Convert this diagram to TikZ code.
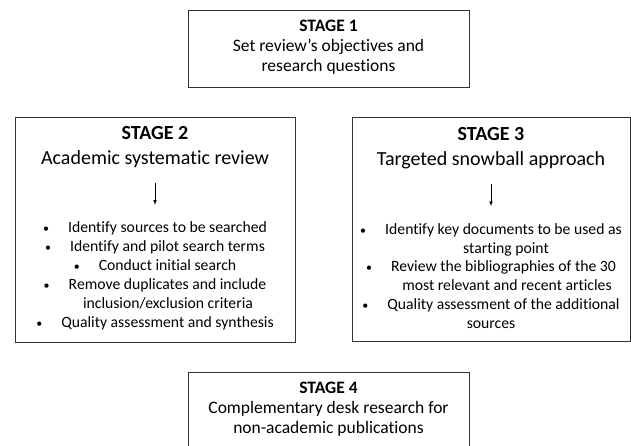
\documentclass[tikz,border=0pt]{standalone}
\usepackage{fontspec}
\setmainfont{Carlito}[Ligatures={TeX,NoCommon}]
\usetikzlibrary{arrows}
\newcommand{\bpt}{\makebox[25pt][l]{\fontsize{12}{12}\selectfont\textbullet}}

\begin{document}
\begin{tikzpicture}[x=1pt,y=-1pt]
    \tikzset{stage/.style = {shape=rectangle, draw=black!80, line width=0.8pt, inner sep=0pt}}
    \tikzset{txt/.style = {align=center, inner sep=0pt}}
    \tikzset{flow/.style = {draw=black, line width=0.6pt, ->, >=latex, shorten <=15pt, shorten >=17pt}}
    \clip (0,0) rectangle (631,445);

    % boxes
    \node[stage, minimum width=281pt, minimum height=77pt] (a) at (328.5,48.5) {};
    \node[stage, minimum width=280pt, minimum height=225pt] (b) at (155,229.5) {};
    \node[stage, minimum width=278pt, minimum height=224pt] (c) at (491,229) {};
    \node[stage, minimum width=281pt, minimum height=77pt] (d) at (328.5,410.5) {};

    % texts
    \node[txt, font=\fontsize{17.5}{20}\selectfont] (a1) at (328.5,47) {\textbf{STAGE 1}\\Set review's objectives and\\research questions};
    \node[txt, font=\fontsize{20}{24.5}\selectfont] (b1) at (155,147) {\textbf{STAGE 2}\\Academic systematic review};
    \node[txt, font=\fontsize{20}{24.5}\selectfont] (c1) at (491,148) {\textbf{STAGE 3}\\Targeted snowball approach};
    \node[txt, font=\fontsize{15.7}{18.9}\selectfont] (b2) at (155,276) {\bpt Identify sources to be searched\\\bpt Identify and pilot search terms\\\bpt Conduct initial search\\\bpt Remove duplicates and include\\\hspace*{26pt}inclusion/exclusion criteria\\\bpt Quality assessment and synthesis};
    \node[txt, font=\fontsize{15.7}{18.9}\selectfont] (c2) at (491,276) {\bpt Identify key documents to be used as\\\hspace*{30pt}starting point\\\bpt Review the bibliographies of the 30\\\hspace*{32pt}most relevant and recent articles\\\bpt Quality assessment of the additional\\sources};
    \node[txt, font=\fontsize{17.5}{20}\selectfont] (d1) at (328.5,409) {\textbf{STAGE 4}\\Complementary desk research for\\non-academic publications};

    % arrows
    \draw[flow] (b1) -- (b2);
    \draw[flow] (c1) -- (c2);
\end{tikzpicture}
\end{document}
